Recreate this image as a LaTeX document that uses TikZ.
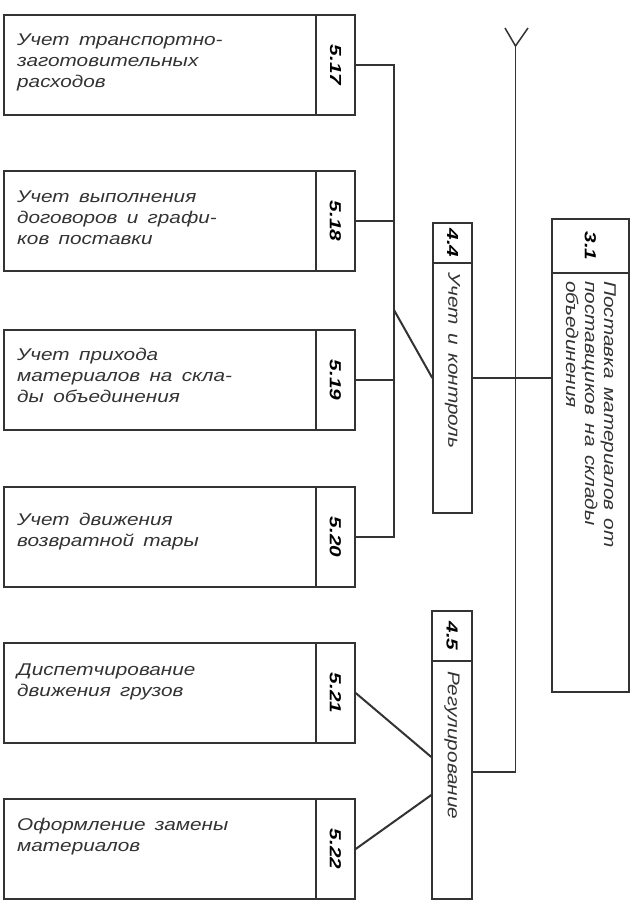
\documentclass[tikz,border=0pt]{standalone}
\usepackage{fontspec}
\usepackage{graphicx}
\newfontfamily\dfont{Liberation Sans}[FakeStretch=1.22]
\newfontfamily\nfont{Liberation Sans}[FakeStretch=1.3]
\definecolor{ink}{gray}{0.2}
\newcommand\numfont{\nfont\bfseries\itshape\fontsize{16}{18}\selectfont}
\newcommand\txtfont{\dfont\itshape\fontsize{17}{21}\selectfont\spaceskip=0.55em\relax}
\newcommand\rtxtfont{\dfont\itshape\fontsize{17}{19}\selectfont\spaceskip=0.5em\relax}
\begin{document}
\begin{tikzpicture}[x=1pt,y=-1pt,
  box/.style={draw=ink, line width=1.4pt, inner sep=0pt, rectangle},
  conn/.style={draw=ink, line width=2pt},
  feed/.style={draw=ink, line width=1.5pt},
  txt/.style={font=\txtfont, text=ink, inner sep=0pt, align=left},
  rtxt/.style={font=\rtxtfont, text=ink, inner sep=0pt, align=left, rotate=-90, anchor=west}]
\fill[white] (0,0) rectangle (635,903);
\useasboundingbox (0,0) rectangle (635,903);
% left boxes
\foreach \id/\c in {17/65, 18/221, 19/380, 20/537, 21/693, 22/849} {
  \node[box, minimum width=312pt, minimum height=100pt] (b\id) at (160,\c) {};
  \node[box, minimum width=39pt, minimum height=100pt] (n\id) at (335.5,\c) {\rotatebox{-90}{\numfont 5.\id}};
}
\node[txt, anchor=north west] (x17) at (17,34) {Учет транспортно-\\заготовительных\\расходов};
\node[txt, anchor=north west] (x18) at (17,191) {Учет выполнения\\договоров и графи-\\ков поставки};
\node[txt, anchor=north west] (x19) at (17,348) {Учет прихода\\материалов на скла-\\ды объединения};
\node[txt, anchor=north west] (x20) at (17,513) {Учет движения\\возвратной тары};
\node[txt, anchor=north west] (x21) at (17,664) {Диспетчирование\\движения грузов};
\node[txt, anchor=north west] (x22) at (17,818) {Оформление замены\\материалов};
% middle boxes
\node[box, minimum width=39pt, minimum height=40pt] (h44) at (452.5,243) {\rotatebox{-90}{\numfont 4.4}};
\node[box, minimum width=39pt, minimum height=250pt] (k44) at (452.5,388) {};
\node[rtxt] (x44) at (452.5,272) {Учет и контроль};
\node[box, minimum width=40pt, minimum height=50pt] (h45) at (452,636) {\rotatebox{-90}{\numfont 4.5}};
\node[box, minimum width=40pt, minimum height=238pt] (k45) at (452,780) {};
\node[rtxt] (x45) at (452,671) {Регулирование};
% right box
\node[box, minimum width=77pt, minimum height=54pt] (h31) at (590.5,246) {\rotatebox{-90}{\numfont 3.1}};
\node[box, minimum width=77pt, minimum height=419pt] (k31) at (590.5,482.5) {};
\node[rtxt] (x31) at (591,281) {Поставка материалов от\\поставщиков на склады\\объединения};
% connectors
\coordinate (bus) at (394,310);
\draw[conn] (n17.east) -| (bus) |- (n20.east);
\draw[conn] (n18.east) -- (n18.east -| bus);
\draw[conn] (n19.east) -- (n19.east -| bus);
\coordinate (j44) at (k44.west |- 0,378);
\draw[conn] (bus) -- (j44);
\draw[conn] (j44 -| k44.east) -- (j44 -| k31.west);
\coordinate (d21) at (k45.west |- 0,757);
\coordinate (d22) at (k45.west |- 0,795);
\draw[conn] (n21.east) -- (d21);
\draw[conn] (n22.east) -- (d22);
% feed line with Y tail
\coordinate (ytop) at (515.5,46);
\coordinate (yl) at (505,28);
\coordinate (yr) at (528,28);
\coordinate (fk) at (k45.east |- 0,772);
\draw[feed] (yl) -- (ytop) -- (yr);
\draw[feed] (ytop) -- (ytop |- fk) -- (fk);
\end{tikzpicture}
\end{document}
